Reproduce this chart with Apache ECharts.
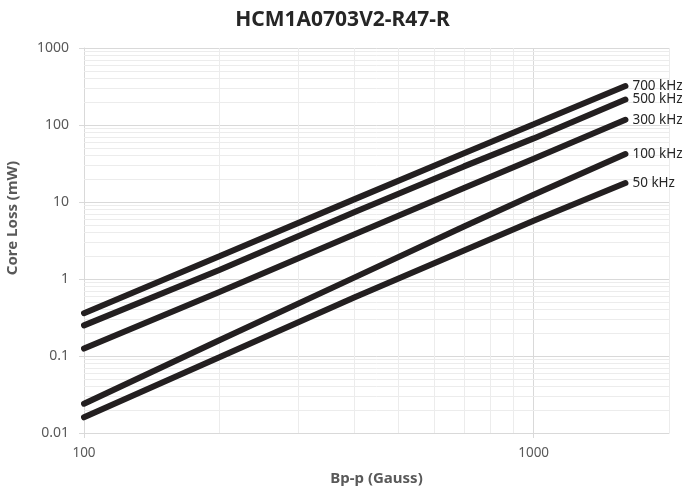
<!DOCTYPE html>
<html>
<head>
<meta charset="utf-8">
<script src="https://cdn.jsdelivr.net/npm/echarts@6/dist/echarts.min.js"></script>
<style>
html,body{margin:0;padding:0;background:#fff;}
#main{width:685px;height:497px;}
</style>
</head>
<body>
<div id="main"></div>
<script>
const titleText = 'HCM1A0703V2-R47-R';
const xAxisName = 'Bp-p (Gauss)';
const yAxisName = 'Core Loss (mW)';
const seriesNames = ['700 kHz', '500 kHz', '300 kHz', '100 kHz', '50 kHz'];
const fluxDensity = [100, 200, 400, 700, 1000, 1600];
const loss700 = [0.36, 1.97, 10.9, 43, 102, 320];
const loss500 = [0.25, 1.31, 7.4, 29, 67, 214];
const loss300 = [0.125, 0.68, 3.8, 15.2, 36.5, 117];
const loss100 = [0.024, 0.16, 1.05, 4.8, 12.4, 42];
const loss50 = [0.016, 0.096, 0.58, 2.35, 5.7, 17.6];
const minorX = [200, 300, 400, 500, 600, 700, 800, 900, 2000];
const minorY = [];
[0.01, 0.1, 1, 10, 100].forEach(function (d) {
  for (let k = 2; k <= 9; k++) minorY.push(+(d * k).toPrecision(3));
});

const lossSets = [loss700, loss500, loss300, loss100, loss50];
const font = 'Noto Sans';

const chart = echarts.init(document.getElementById('main'), null, {renderer: 'canvas'});

const lineSeries = lossSets.map(function (vals, i) {
  return {
    name: seriesNames[i],
    type: 'line',
    z: 3,
    data: fluxDensity.map(function (x, j) { return [x, vals[j]]; }),
    symbol: 'none',
    smooth: false,
    lineStyle: {color: '#231f20', width: 6, cap: 'round'},
    itemStyle: {color: '#231f20'},
    endLabel: {
      show: true,
      formatter: '{a}',
      distance: 7,
      fontFamily: font,
      fontSize: 13.5,
      color: '#262626'
    },
    animation: false
  };
});

const gridSeries = {
  name: 'grid',
  type: 'line',
  z: 1,
  data: [],
  silent: true,
  animation: false,
  markLine: {
    z: 1,
    silent: true,
    symbol: ['none', 'none'],
    label: {show: false},
    animation: false,
    lineStyle: {color: '#ececec', width: 1, type: 'solid'},
    emphasis: {disabled: true},
    data: minorX.map(function (v) { return {xAxis: v}; })
      .concat(minorY.map(function (v) { return {yAxis: v}; }))
  }
};

chart.setOption({
  animation: false,
  backgroundColor: '#ffffff',
  title: {
    text: titleText,
    left: 'center',
    top: 5,
    textStyle: {fontFamily: font, fontSize: 21, fontWeight: 'bold', color: '#262626'}
  },
  graphic: [{
    type: 'text',
    rotation: Math.PI / 2,
    x: 13,
    y: 218,
    style: {
      text: yAxisName,
      fontFamily: font,
      fontSize: 15,
      fontWeight: 'bold',
      fill: '#595959',
      align: 'center',
      verticalAlign: 'middle'
    }
  }],
  grid: {left: 84, right: 16, top: 48, bottom: 64, containLabel: false},
  xAxis: {
    type: 'log',
    logBase: 10,
    min: 100,
    max: 2000,
    name: xAxisName,
    nameLocation: 'middle',
    nameGap: 38,
    nameTextStyle: {fontFamily: font, fontSize: 15, fontWeight: 'bold', color: '#595959'},
    axisLine: {show: true, lineStyle: {color: '#d9d9d9', width: 1}},
    axisTick: {show: true, length: 5, lineStyle: {color: '#d9d9d9'}},
    axisLabel: {
      fontFamily: font, fontSize: 13.5, color: '#595959', margin: 13,
      showMaxLabel: false,
      formatter: function (v) { return v >= 2000 ? '' : String(Math.round(v)); }
    },
    splitLine: {show: true, lineStyle: {color: '#d9d9d9', width: 1}}
  },
  yAxis: {
    type: 'log',
    logBase: 10,
    min: 0.01,
    max: 1000,
    axisLine: {show: true, lineStyle: {color: '#d9d9d9', width: 1}},
    axisTick: {show: true, length: 5, lineStyle: {color: '#d9d9d9'}},
    axisLabel: {
      fontFamily: font, fontSize: 14, color: '#595959', margin: 15,
      formatter: function (v) { return String(+v.toPrecision(3)); }
    },
    splitLine: {show: true, lineStyle: {color: '#d9d9d9', width: 1}}
  },
  series: [gridSeries].concat(lineSeries)
});
</script>
</body>
</html>
